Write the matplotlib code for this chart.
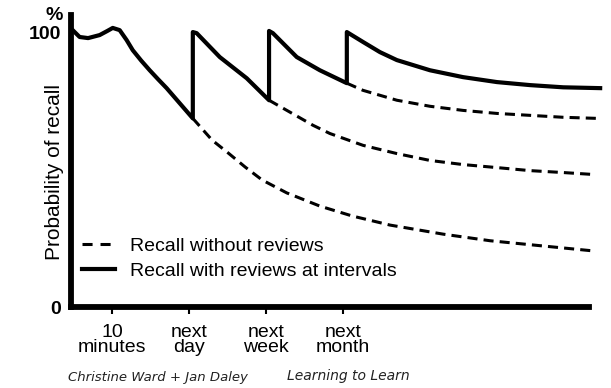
import matplotlib
matplotlib.use('Agg')
import matplotlib.pyplot as plt
from matplotlib.lines import Line2D

plt.rcParams['font.family'] = ['Liberation Sans', 'DejaVu Sans']

# x axis: 1 = 10 minutes, 2 = next day, 3 = next week, 4 = next month
tick_pos = [1, 2, 3, 4]
tick_labels = ['10\nminutes', 'next\nday', 'next\nweek', 'next\nmonth']

# recall with reviews at intervals (solid)
review_x = [0.49, 0.58, 0.69, 0.84, 0.94, 1.01, 1.10, 1.19, 1.27, 1.38, 1.49, 1.60, 1.71, 1.88, 2.05,
            2.05, 2.10, 2.40, 2.75, 3.04,
            3.04, 3.09, 3.40, 3.70, 4.05,
            4.05, 4.26, 4.48, 4.70, 5.13, 5.56, 6.00, 6.43, 6.86, 7.34]
review_y = [100.7, 98.2, 97.8, 98.9, 100.4, 101.5, 100.7, 97.1, 93.4, 89.6, 86.1, 82.8, 79.6, 74.1, 68.6,
            100.0, 99.6, 90.9, 83.2, 75.2,
            100.4, 99.6, 90.9, 86.1, 81.4,
            100.0, 96.4, 92.7, 89.8, 86.1, 83.6, 81.8, 80.7, 79.9, 79.6]

# recall without reviews (dashed), one branch after each point where a review would happen
noreview_day_x = [2.05, 2.30, 2.51, 2.73, 2.95, 3.27, 3.70, 4.12, 4.61, 5.30, 5.91, 6.56, 7.25]
noreview_day_y = [68.6, 60.7, 56.0, 50.9, 46.2, 41.5, 36.7, 33.1, 29.8, 26.5, 24.1, 22.3, 20.4]

noreview_week_x = [3.04, 3.61, 3.83, 4.26, 4.70, 5.13, 5.56, 6.00, 6.43, 6.86, 7.25]
noreview_week_y = [75.2, 66.1, 63.1, 58.8, 55.8, 53.3, 51.8, 50.7, 49.6, 48.9, 48.2]

noreview_month_x = [4.05, 4.26, 4.70, 5.13, 5.56, 6.00, 6.43, 6.86, 7.30]
noreview_month_y = [81.4, 78.8, 75.2, 73.0, 71.5, 70.4, 69.7, 69.0, 68.6]

fig = plt.figure(figsize=(6.11, 3.88), dpi=100)
ax = fig.add_axes([71/611, 81/388, (589-71)/611, (307-15)/388])

dash = (0, (3.3, 2.0))
for xs, ys in [(noreview_day_x, noreview_day_y),
               (noreview_week_x, noreview_week_y),
               (noreview_month_x, noreview_month_y)]:
    ax.plot(xs, ys, color='black', lw=2.2, ls=dash, clip_on=False)
ax.plot(review_x, review_y, color='black', lw=3.0, solid_joinstyle='round', clip_on=False)

ax.set_xlim(0.468, 7.195)
ax.set_ylim(0, 106.2)

for s in ['top', 'right']:
    ax.spines[s].set_visible(False)
for s in ['left', 'bottom']:
    ax.spines[s].set_linewidth(4.2)
    ax.spines[s].set_capstyle('projecting')

ax.set_xticks(tick_pos)
ax.set_xticklabels(tick_labels, fontsize=14, linespacing=0.85)
ax.tick_params(axis='x', length=5, width=1.5, pad=7.5)

ax.set_yticks([0, 100])
ax.set_yticklabels(['0', '100'], fontsize=14, fontweight='bold')
ax.tick_params(axis='y', length=0, pad=7)
ax.text(-0.032, 1.0, '%', transform=ax.transAxes, fontsize=14, fontweight='bold',
        ha='center', va='center')

ax.set_ylabel('Probability of recall', fontsize=15, va='center')
ax.yaxis.set_label_coords(-0.032, 0.462)

handles = [Line2D([], [], color='black', lw=2.2, ls=(0, (3.3, 2.6))),
           Line2D([], [], color='black', lw=3.0)]
ax.legend(handles, ['Recall without reviews', 'Recall with reviews at intervals'],
          loc='upper left', bbox_to_anchor=(0.021, 0.24), frameon=False, fontsize=14,
          handlelength=1.7, handletextpad=0.8, labelspacing=0.4, borderpad=0, borderaxespad=0)

fig.text(68/611, 1 - 378/388, 'Christine Ward + Jan Daley', fontsize=9.5, style='italic',
         family='DejaVu Sans', va='center', color='#222222')
fig.text(287/611, 1 - 376/388, 'Learning to Learn', fontsize=10, style='italic',
         family='DejaVu Sans', va='center', color='#222222')

fig.savefig('out.png', dpi=100)
